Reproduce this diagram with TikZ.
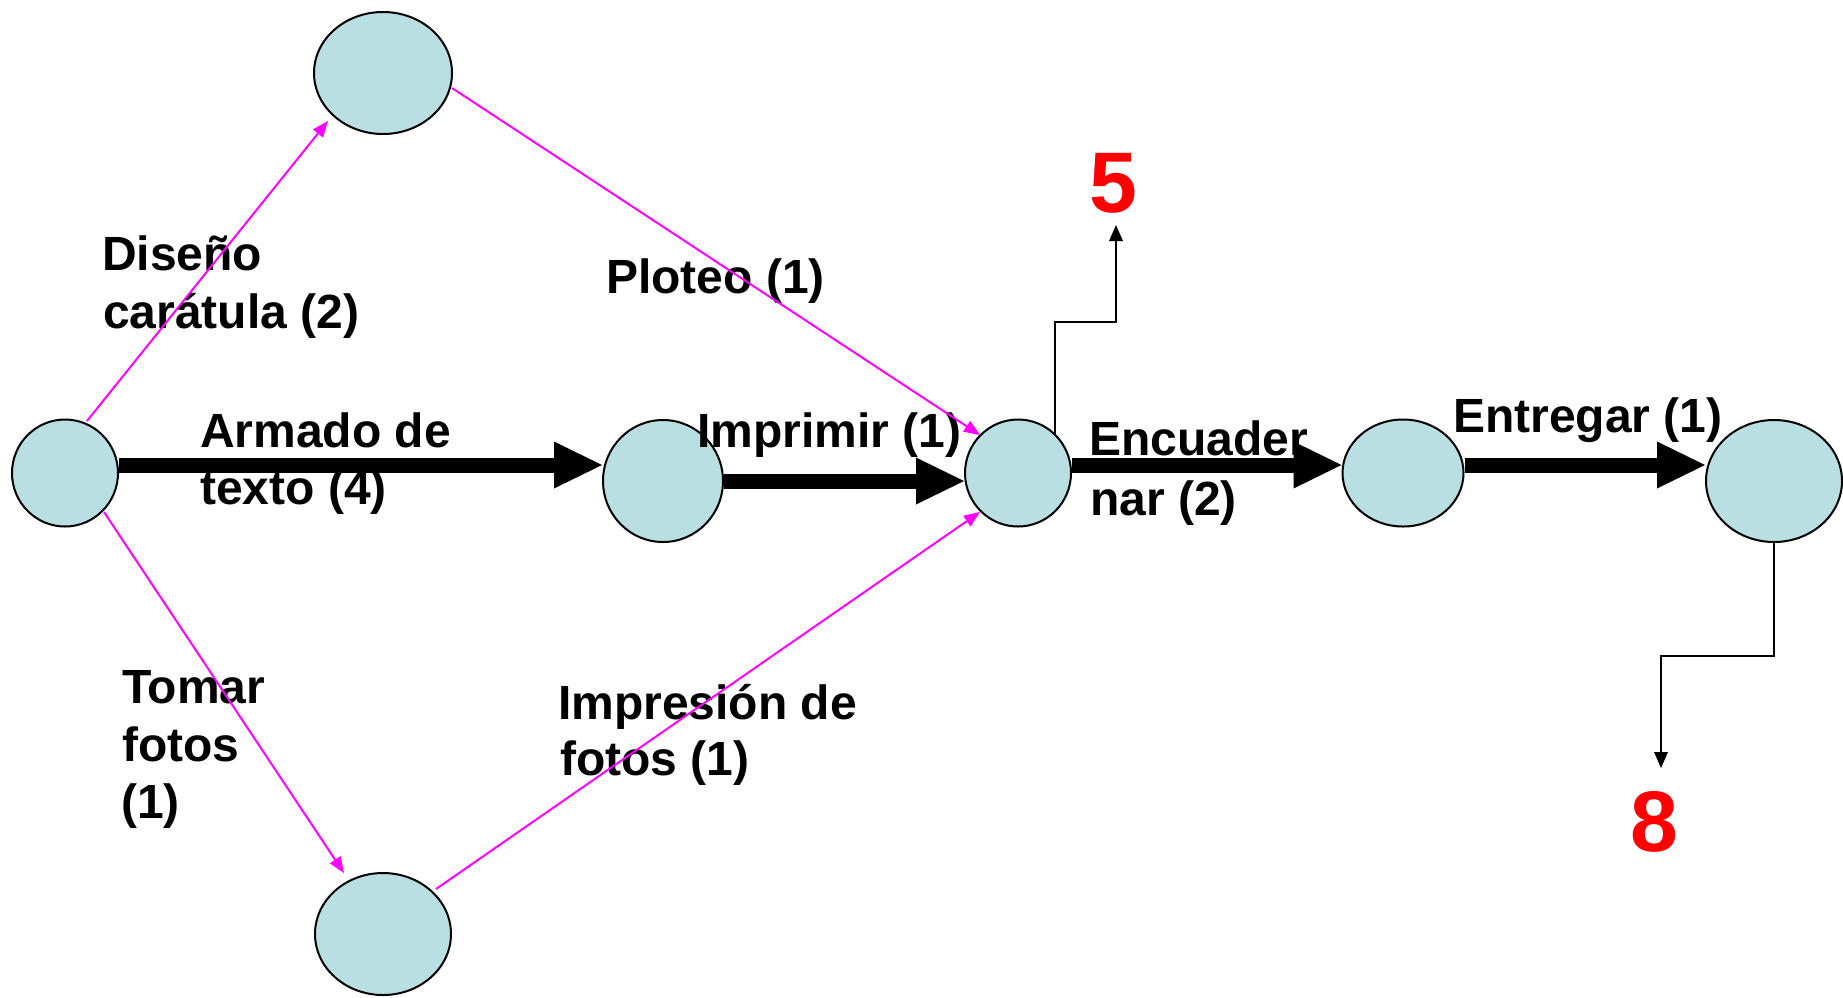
\documentclass[tikz,border=0pt]{standalone}
\usepackage{fontspec}
\setmainfont{Liberation Sans}
\usetikzlibrary{arrows.meta,shapes.geometric,calc}
\definecolor{nodefill}{RGB}{185,223,226}
\definecolor{mag}{RGB}{255,0,255}
\begin{document}
\begin{tikzpicture}[x=1pt,y=-1pt,
  ev/.style={ellipse,draw=black,line width=2pt,fill=nodefill,inner sep=0pt},
  lbl/.style={anchor=base west,inner sep=0pt,font=\fontsize{48}{57}\selectfont\bfseries},
  bigarrow/.style={line width=15pt,-{Triangle[length=48pt,width=47pt,line width=0pt]}},
  magarrow/.style={draw=mag,line width=2pt,-{Triangle[length=16pt,width=13pt,line width=0pt]}},
  elbow/.style={line width=2pt,-{Triangle[length=16pt,width=14pt,line width=0pt]}},
  num/.style={text=red,font=\fontsize{86}{86}\selectfont\bfseries,inner sep=0pt,anchor=base}]
\useasboundingbox[fill=white] (0,0) rectangle (1843,997);

% event nodes
\node[ev,minimum width=106pt,minimum height=107pt] (A) at (65,473) {};
\node[ev,minimum width=138pt,minimum height=122pt] (T) at (383,73) {};
\node[ev,minimum width=120pt,minimum height=122pt] (B) at (663,481) {};
\node[ev,minimum width=106pt,minimum height=107pt] (C) at (1018,473) {};
\node[ev,minimum width=121pt,minimum height=107pt] (D) at (1403,473) {};
\node[ev,minimum width=136pt,minimum height=122pt] (E) at (1774,481) {};
\node[ev,minimum width=136pt,minimum height=122pt] (F) at (383,934) {};

% labels
\node[lbl] (l1a) at (102,270) {Diseño};
\node[lbl] (l1b) at (103,328) {carátula (2)};
\node[lbl] (l2) at (606,293) {Ploteo (1)};
\node[lbl] (l3a) at (200,447) {Armado de};
\node[lbl] (l3b) at (200,504) {texto (4)};
\node[lbl] (l4) at (697,447) {Imprimir (1)};
\node[lbl] (l5a) at (1089,455) {Encuader};
\node[lbl] (l5b) at (1090,515) {nar (2)};
\node[lbl] (l6) at (1453,432) {Entregar (1)};
\node[lbl] (l7a) at (122,703) {Tomar};
\node[lbl] (l7b) at (122,761) {fotos};
\node[lbl] (l7c) at (121,818) {(1)};
\node[lbl] (l8a) at (558,719) {Impresión de};
\node[lbl] (l8b) at (560,775) {fotos (1)};

\node[num] (n5) at (1113,212) {5};
\node[num] (n8) at (1654,851) {8};
\coordinate (p5) at (1116,225);
\coordinate (p8) at (1661,768);
\coordinate (yh) at (0,465);

% critical path arrows
\draw[bigarrow] (A.east |- yh) -- (B.west |- yh);
\draw[bigarrow] (B.east) -- (C.west |- B.east);
\draw[bigarrow] (C.east |- yh) -- (D.west |- yh);
\draw[bigarrow] (D.east |- yh) -- (E.west |- yh);

% other activities
\draw[magarrow] ($(A.center)+(22,-52)$) -- ($(T.center)+(-55,48)$);
\draw[magarrow] ($(T.center)+(69,15)$) -- ($(C.center)+(-38,-38)$);
\draw[magarrow] ($(A.center)+(39,39)$) -- ($(F.center)+(-39,-61)$);
\draw[magarrow] ($(F.center)+(53,-45)$) -- ($(C.center)+(-38,39)$);

% links to other pages
\draw[elbow] ($(C.center)+(37,-38)$) -- ++(0,-113) -| (p5);
\draw[elbow] (E.south) -- ++(0,113) -| (p8);
\end{tikzpicture}
\end{document}
